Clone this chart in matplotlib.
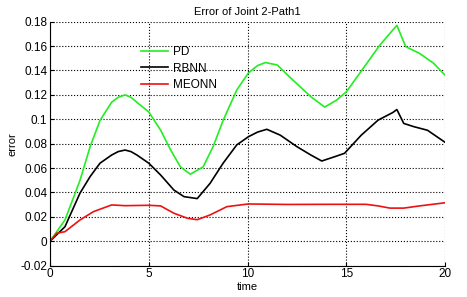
import numpy as np
import matplotlib
matplotlib.use('Agg')
import matplotlib.pyplot as plt

plt.rcParams['font.family'] = ['Liberation Sans', 'DejaVu Sans']

# valores
t_pd = [0, 0.76, 1.52, 2.03, 2.53, 3.12, 3.45, 3.8, 4.1, 4.39, 5.0, 5.6, 6.1,
        6.6, 7.1, 7.75, 8.25, 8.76, 9.45, 10.04, 10.5, 10.9, 11.5, 12.2, 13.2,
        13.9, 14.5, 15.0, 15.85, 16.7, 17.55, 18.0, 18.7, 19.4, 20]
e_pd = [0, 0.0175, 0.050, 0.0775, 0.099, 0.114, 0.118, 0.120, 0.118, 0.114,
        0.106, 0.091, 0.075, 0.061, 0.055, 0.061, 0.0775, 0.099, 0.124, 0.138,
        0.144, 0.1465, 0.1445, 0.1335, 0.1185, 0.110, 0.1157, 0.1226, 0.1418,
        0.161, 0.177, 0.1595, 0.154, 0.146, 0.136]

t_rbnn = [0, 0.76, 1.52, 2.03, 2.53, 3.12, 3.45, 3.8, 4.1, 4.4, 5.0, 5.6,
          6.27, 6.78, 7.45, 8.1, 8.76, 9.45, 10.04, 10.5, 10.97, 11.65, 12.5,
          13.2, 13.75, 14.4, 14.9, 15.75, 16.6, 17.35, 17.55, 17.9, 18.4,
          19.1, 20]
e_rbnn = [0, 0.012, 0.0395, 0.053, 0.064, 0.0707, 0.0735, 0.0748, 0.0735,
          0.0707, 0.064, 0.0543, 0.042, 0.0366, 0.035, 0.0475, 0.064, 0.079,
          0.0857, 0.0895, 0.0918, 0.087, 0.0775, 0.0707, 0.0658, 0.0693,
          0.0721, 0.087, 0.0993, 0.1056, 0.108, 0.0966, 0.094, 0.091, 0.081]

t_meonn = [0, 0.34, 0.76, 1.52, 2.2, 3.12, 3.8, 5.0, 5.6, 6.27, 6.95, 7.45,
           8.1, 8.95, 10.04, 12.0, 14.0, 16.0, 16.6, 17.2, 17.9, 18.7, 20]
e_meonn = [0, 0.0066, 0.0079, 0.0175, 0.0243, 0.0298, 0.0292, 0.0295, 0.029,
           0.023, 0.0189, 0.0177, 0.0216, 0.0284, 0.0306, 0.0302, 0.0303,
           0.0303, 0.029, 0.0272, 0.0272, 0.029, 0.0316]

fig = plt.figure(figsize=(4.67, 2.97), dpi=100)
ax = fig.add_axes([0.107, 0.1054, 0.8465, 0.8216])

ax.plot(t_pd, e_pd, c='#22ee22', lw=1.2, label='PD')
ax.plot(t_rbnn, e_rbnn, c='black', lw=1.2, label='RBNN')
ax.plot(t_meonn, e_meonn, c='#ee1111', lw=1.2, label='MEONN')

ax.set_xlim(0, 20)
ax.set_ylim(-0.02, 0.18)
ax.set_xticks([0, 5, 10, 15, 20])
ax.set_yticks(np.arange(-0.02, 0.181, 0.02))
ax.set_yticklabels(['-0.02', '0', '0.02', '0.04', '0.06', '0.08', '0.1',
                    '0.12', '0.14', '0.16', '0.18'])
ax.grid(True, ls=':', color='black', lw=0.8)
ax.spines['top'].set_visible(False)
ax.spines['right'].set_visible(False)
ax.tick_params(direction='in', labelsize=8.5, length=3, pad=2)

ax.set_title('Error of Joint 2-Path1', fontsize=8, pad=5)
ax.set_xlabel('time', fontsize=8, labelpad=1)
ax.set_ylabel('error', fontsize=8, labelpad=2)

ax.legend(loc='upper left', bbox_to_anchor=(0.215, 0.925), frameon=False,
          fontsize=8.5, handlelength=2.3, labelspacing=0.4, borderpad=0,
          handletextpad=0.4)

fig.savefig('out.png', dpi=100)
